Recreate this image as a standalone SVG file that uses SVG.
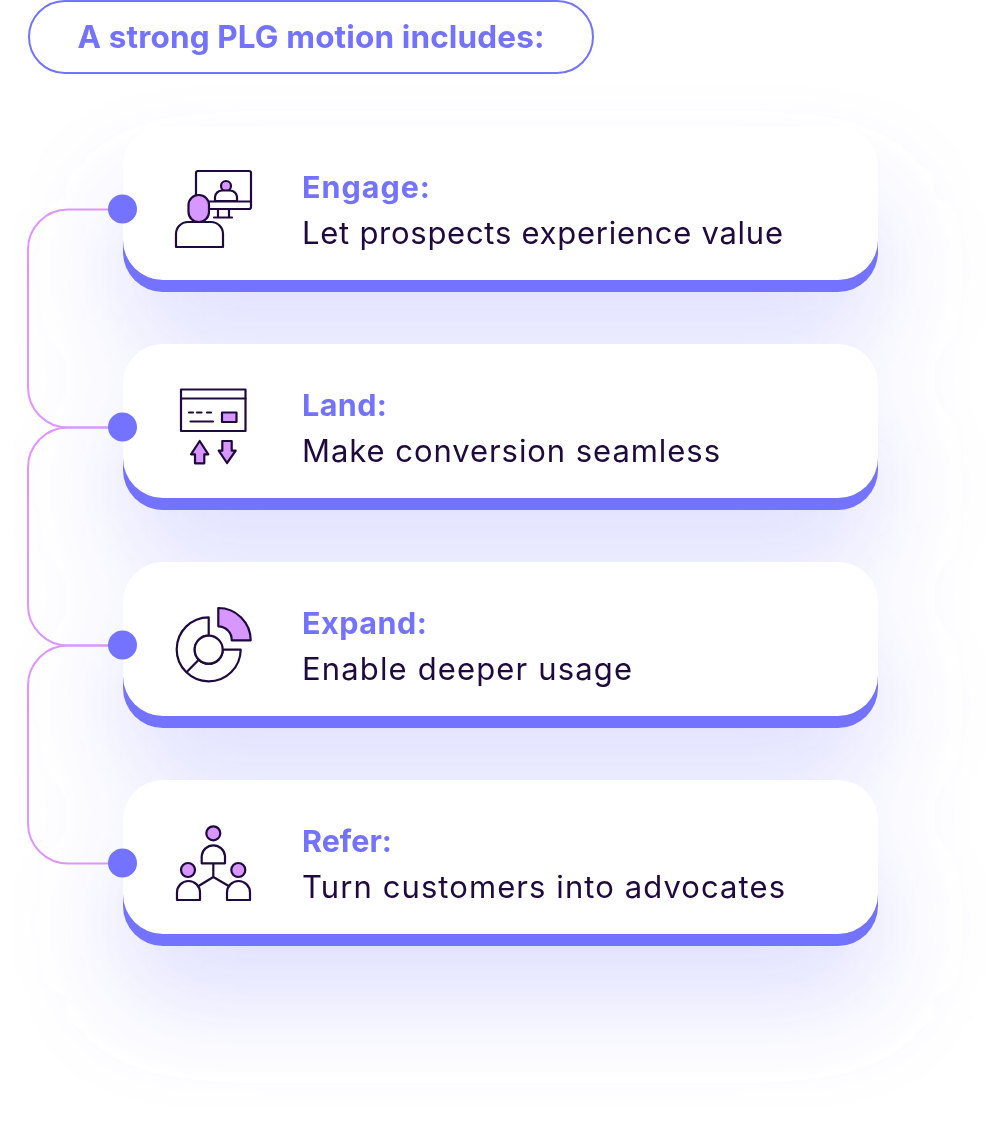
<svg xmlns="http://www.w3.org/2000/svg" width="1000" height="1138" viewBox="0 0 1000 1138">
<style>
text{font-family:Inter,"Noto Sans","Liberation Sans",sans-serif}
.t{font-size:30.500px;font-weight:700;fill:#7373ff}
.b{font-size:31px;font-weight:400;fill:#1f0a3d}
.h{font-size:31.500px;font-weight:700;fill:#7373ff}
.card{fill:#fff}
.under{fill:#7373ff}
.dot{fill:#7373ff}
.i{fill:#fff;stroke:#1f0a3d;stroke-width:2.200;stroke-linejoin:round;stroke-linecap:round}
.n{fill:none;stroke:#1f0a3d;stroke-width:2.200;stroke-linecap:round;stroke-linejoin:round}
.p{fill:#d896ff;stroke:#1f0a3d;stroke-width:2.200;stroke-linejoin:round;stroke-linecap:round}
.c{fill:none;stroke:#dd96ff;stroke-width:2}
.g{fill:#7373ff;opacity:.24}
</style>
<defs>
<filter id="blur" filterUnits="userSpaceOnUse" x="-200" y="-200" width="1400" height="1540"><feGaussianBlur stdDeviation="52"/></filter>
</defs>
<rect width="1000" height="1138" fill="#fff"/>
<g id="glow" filter="url(#blur)">
<rect class="g" x="123" y="195" width="755" height="150" rx="40"/>
<rect class="g" x="123" y="413" width="755" height="150" rx="40"/>
<rect class="g" x="123" y="631" width="755" height="150" rx="40"/>
<rect class="g" x="123" y="849" width="755" height="150" rx="40"/>
</g>
<g id="header">
<rect x="29" y="1" width="564" height="72" rx="36" fill="#fff" stroke="#7373ff" stroke-width="2"/>
<text class="h" x="77.500" y="48" textLength="467">A strong PLG motion includes:</text>
</g>
<g id="connectors">
<path class="c" d="M123 209.500H68A40 40 0 0 0 28 249.500V387.500A40 40 0 0 0 68 427.500H123"/>
<path class="c" d="M123 427.500H68A40 40 0 0 0 28 467.500V605.500A40 40 0 0 0 68 645.500H123"/>
<path class="c" d="M123 645.500H68A40 40 0 0 0 28 685.500V823.500A40 40 0 0 0 68 863.500H123"/>
</g>
<g id="engage">
<rect class="under" x="123" y="138" width="755" height="154" rx="40"/>
<rect class="card" x="123" y="126" width="755" height="154" rx="40"/>
<circle class="dot" cx="122.500" cy="209" r="14.500"/>
<rect class="i" x="196" y="171" width="55" height="38" rx="2"/>
<path class="n" d="M209 201.500H251M218 209V217M229 209V217M214 217.500H232"/>
<circle class="p" cx="226" cy="186" r="5"/>
<path class="i" d="M215 201V197A7 7 0 0 1 222 190.500H230A7 7 0 0 1 237 197V201Z"/>
<path class="i" d="M176 247V234A12 12 0 0 1 188 222H211A12 12 0 0 1 223 234V247Z"/>
<rect class="p" x="188.500" y="195" width="20.500" height="27" rx="10"/>
<text class="t" x="302" y="197.500" textLength="128">Engage:</text>
<text class="b" x="302" y="244" textLength="481">Let prospects experience value</text>
</g>
<g id="land">
<rect class="under" x="123" y="356" width="755" height="154" rx="40"/>
<rect class="card" x="123" y="344" width="755" height="154" rx="40"/>
<circle class="dot" cx="122.500" cy="427" r="14.500"/>
<rect class="i" x="181" y="389.500" width="64.500" height="41.500"/>
<path class="n" d="M181 398.500H245.500M190.500 421.500H213"/>
<path class="n" d="M189 412.500H193M197 412.500H201.500M207 412.500H211"/>
<rect class="p" x="222" y="412.500" width="14.500" height="9.500"/>
<path class="p" d="M199.700 441L208.300 454.300H204.300V463.300H195V454.300H191Z"/>
<path class="p" d="M222.300 441H231.700V450.700H235.700L227 463L218.700 450.700H222.300Z"/>
<text class="t" x="302" y="415.500" textLength="85">Land:</text>
<text class="b" x="302" y="462" textLength="418">Make conversion seamless</text>
</g>
<g id="expand">
<rect class="under" x="123" y="574" width="755" height="154" rx="40"/>
<rect class="card" x="123" y="562" width="755" height="154" rx="40"/>
<circle class="dot" cx="122.500" cy="645" r="14.500"/>
<path class="p" d="M218.300 608A32.400 32.400 0 0 1 250.700 640.300H231.700A13.500 13.500 0 0 0 218.300 626.300Z"/>
<path class="i" d="M208.700 617.300V635.700A14 14 0 1 0 222.700 649.700H240.700A32 32 0 1 1 208.700 617.300Z"/>
<circle class="i" cx="208.700" cy="649.700" r="14"/>
<path class="n" d="M186.700 672L198.500 660"/>
<text class="t" x="302" y="633.500" textLength="125">Expand:</text>
<text class="b" x="302" y="680" textLength="330">Enable deeper usage</text>
</g>
<g id="refer">
<rect class="under" x="123" y="792" width="755" height="154" rx="40"/>
<rect class="card" x="123" y="780" width="755" height="154" rx="40"/>
<circle class="dot" cx="122.500" cy="863" r="14.500"/>
<path class="n" d="M213.300 863.300V877M199 885.700L213.300 877L228.300 885.700"/>
<circle class="p" cx="213.300" cy="833.300" r="7"/>
<path class="i" d="M201.700 863.300V856A11.700 11.700 0 0 1 225 856V863.300Z"/>
<circle class="p" cx="188" cy="870" r="7"/>
<path class="i" d="M177 900V892.500A11.500 11.500 0 0 1 200 892.500V900Z"/>
<circle class="p" cx="238.300" cy="870" r="7"/>
<path class="i" d="M227 900V892.500A11.500 11.500 0 0 1 250 892.500V900Z"/>
<text class="t" x="302" y="851.500" textLength="90">Refer:</text>
<text class="b" x="302" y="898" textLength="483">Turn customers into advocates</text>
</g>
</svg>
